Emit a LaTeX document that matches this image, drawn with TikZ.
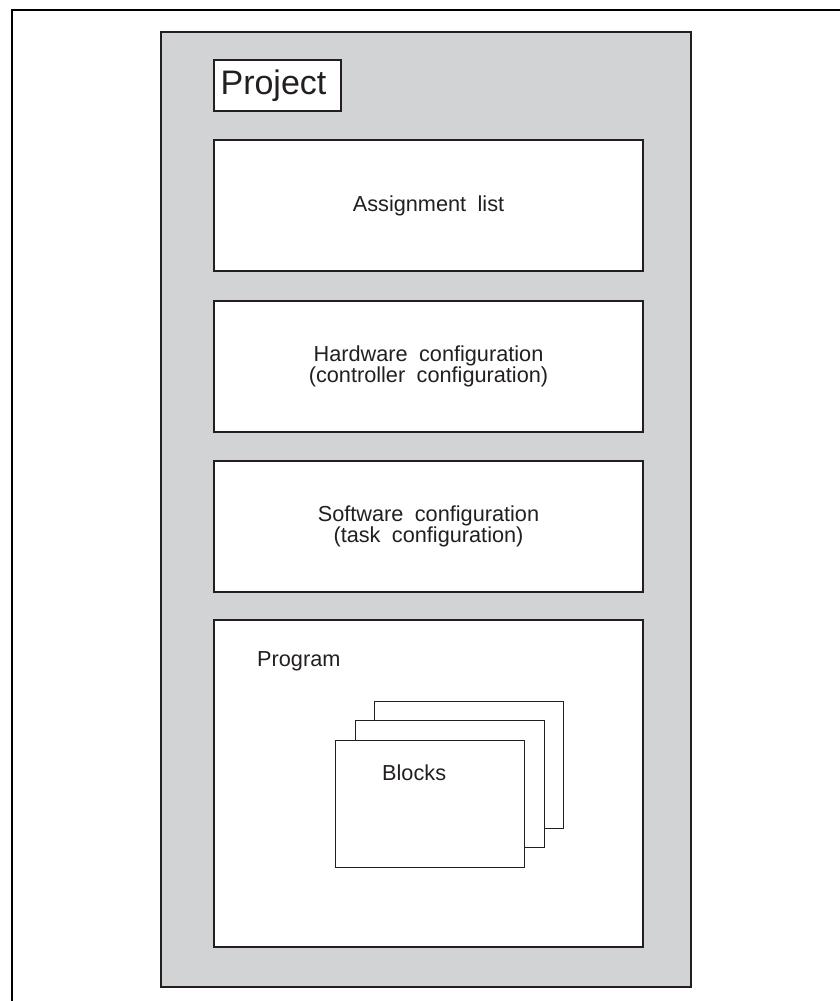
\documentclass[tikz,border=0pt]{standalone}
\usepackage{fontspec}
\setmainfont[WordSpace=1.9]{Liberation Sans}
\definecolor{ink}{HTML}{231F20}
\definecolor{panel}{HTML}{D1D3D4}
\begin{document}
\begin{tikzpicture}[x=1pt,y=-1pt,
  every node/.style={text=ink},
  smalltext/.style={font=\fontsize{21.7}{20.5}\selectfont},
  frame/.style={draw=ink,line width=2.5pt,fill=panel},
  part/.style={draw=ink,line width=2pt,fill=white,inner sep=0pt,
               smalltext,align=center},
  sheet/.style={draw=ink,line width=1pt,fill=white,inner sep=0pt,
                minimum width=189,minimum height=127}]
  \useasboundingbox (0,0) rectangle (840,1001);
  % corner of the surrounding border
  \coordinate (bl) at (12,1001);
  \coordinate (tl) at (12,10);
  \coordinate (tr) at (840,10);
  \draw[black,line width=2pt] (bl) -- (tl) -- (tr);
  % project panel
  \node[frame,minimum width=530,minimum height=955,inner sep=0pt]
    (project) at (426,509.5) {};
  \node[draw=ink,line width=2pt,fill=white,minimum width=127,minimum height=51,
        inner sep=0pt,font=\fontsize{34}{34}\selectfont]
    (title) at (277.5,85.5) {\hspace*{-8pt}Project};
  % contents of the project
  \node[part,minimum width=429,minimum height=131]
    (assign) at (428.5,205.5) {Assignment list};
  \node[part,minimum width=429,minimum height=131]
    (hw) at (428.5,366.5) {Hardware configuration\\(controller configuration)};
  \node[part,minimum width=429,minimum height=131]
    (sw) at (428.5,526.5) {Software configuration\\(task configuration)};
  \node[part,minimum width=429,minimum height=327]
    (prog) at (428.5,783.5) {};
  \node[smalltext,anchor=base west,inner sep=0pt] (proglabel) at (257,666) {Program};
  % stack of blocks
  \node[sheet] (blk3) at (468.5,764.5) {};
  \node[sheet] (blk2) at (449.5,784) {};
  \node[sheet] (blk1) at (429.5,803.5) {};
  \node[smalltext,anchor=base west,inner sep=0pt] (blklabel) at (382,780) {Blocks};
\end{tikzpicture}
\end{document}
